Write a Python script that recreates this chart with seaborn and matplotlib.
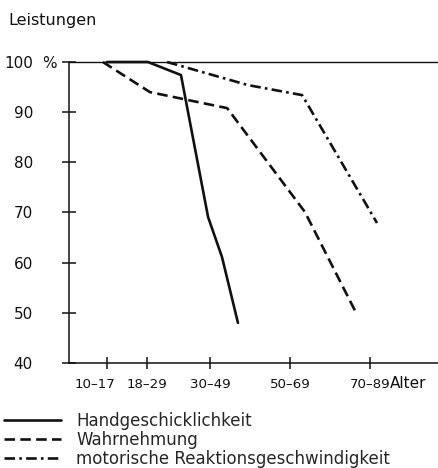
import pandas as pd
import matplotlib
matplotlib.use("Agg")
import matplotlib.pyplot as plt
import matplotlib.transforms as mtransforms
import seaborn as sns

# Altersgruppen (x-Achse) und ihre Mitte in Jahren
alter_gruppen = ["10–17", "18–29", "30–49", "50–69", "70–89"]
alter_mitte = [13.5, 23.5, 39.5, 59.5, 79.5]
leistung_ticks = [40, 50, 60, 70, 80, 90, 100]

# Kurven (Alter in Jahren, Leistung in %)
hand_alter = [13.5, 23.8, 32.1, 38.9, 42.4, 46.4]
hand_werte = [100, 100, 97.4, 69.1, 61.1, 48.0]
wahr_alter = [12.5, 24.3, 43.7, 63.2, 76.3]
wahr_werte = [100, 94.0, 90.8, 70.1, 49.6]
motor_alter = [28.6, 48.9, 62.5, 81.3]
motor_werte = [100, 95.4, 93.4, 67.9]

namen = ["Handgeschicklichkeit", "Wahrnehmung",
         "motorische Reaktionsgeschwindigkeit"]

df = pd.concat([
    pd.DataFrame({"alter": hand_alter, "leistung": hand_werte, "merkmal": namen[0]}),
    pd.DataFrame({"alter": wahr_alter, "leistung": wahr_werte, "merkmal": namen[1]}),
    pd.DataFrame({"alter": motor_alter, "leistung": motor_werte, "merkmal": namen[2]}),
], ignore_index=True)

sns.set_style("white")
plt.rcParams["font.family"] = ["DejaVu Sans"]

ink = "#111111"
fig = plt.figure(figsize=(4.38, 4.68), dpi=100)
ax = fig.add_axes([69 / 438, 1 - 363 / 468, 1 - 69 / 438, 301 / 468])

# 100-%-Linie quer durch
ax.axhline(100, color=ink, lw=1.0, zorder=1)

sns.lineplot(data=df, x="alter", y="leistung", style="merkmal",
             style_order=namen, color=ink, linewidth=1.9,
             dashes={namen[0]: "", namen[1]: (4, 2),
                     namen[2]: (4, 1.6, 1, 1.6)},
             ax=ax)
for ln in ax.lines:
    ln.set_clip_on(False)

ax.set_xlim(4.0, 96.6)
ax.set_ylim(40, 100)
ax.set_xlabel("")
ax.set_ylabel("")

ax.set_xticks(alter_mitte)
ax.set_xticklabels(alter_gruppen, fontsize=9.6, color=ink)
ax.set_yticks(leistung_ticks)
ax.set_yticklabels([str(v) for v in leistung_ticks], fontsize=11, color=ink)
ax.tick_params(axis="y", direction="inout", length=10, width=1.1,
               pad=21, left=True, colors=ink)
ax.tick_params(axis="x", direction="inout", length=8.6, width=1.1,
               pad=6.5, bottom=True, colors=ink)

# erstes Etikett sitzt im Original etwas links vom Strich
first = ax.get_xticklabels()[0]
first.set_transform(first.get_transform() +
                    mtransforms.ScaledTranslation(-12 / 100, 0, fig.dpi_scale_trans))

sns.despine(ax=ax)
for side in ["left", "bottom"]:
    ax.spines[side].set_color(ink)
    ax.spines[side].set_linewidth(1.1)

fig.text(8 / 438, 1 - 21 / 468, "Leistungen", fontsize=11.5,
         ha="left", va="center", color=ink)
pct_trans = mtransforms.blended_transform_factory(fig.transFigure, ax.transData)
ax.text(42 / 438, leistung_ticks[-1], "%", fontsize=11, transform=pct_trans,
        ha="left", va="center_baseline", color=ink)
fig.text(390 / 438, 1 - 384 / 468, "Alter", fontsize=11,
         ha="left", va="center", color=ink)

handles, labels = ax.get_legend_handles_labels()
ax.get_legend().remove()
fig.legend(handles, labels, loc="upper left",
           bbox_to_anchor=(4 / 438, 1 - 412 / 468),
           frameon=False, fontsize=12, handlelength=3.4,
           handletextpad=0.95, labelspacing=0.06,
           borderpad=0, borderaxespad=0)

fig.savefig("out.png", dpi=100)
